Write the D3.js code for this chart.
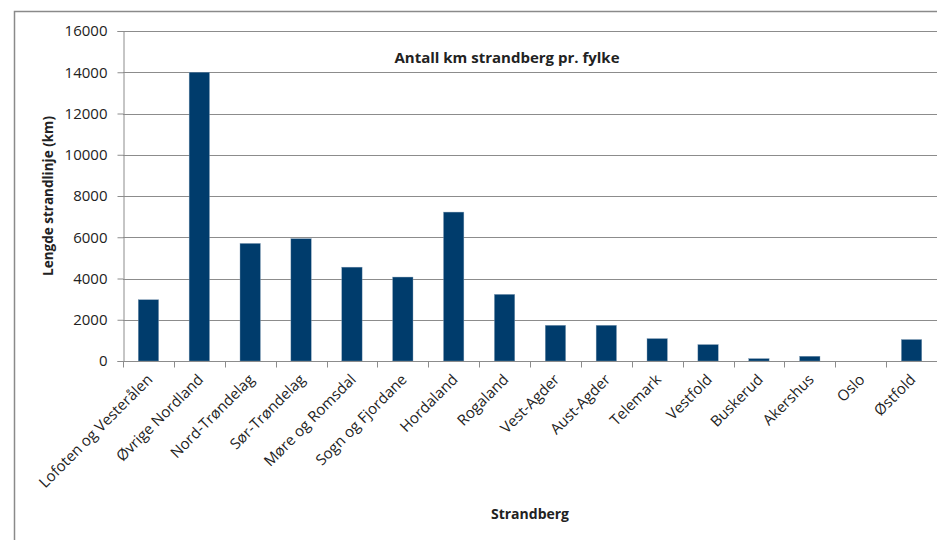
<!DOCTYPE html>
<html>
<head>
<meta charset="utf-8">
<script src="https://cdn.jsdelivr.net/npm/d3@7"></script>
<style>
  body { margin: 0; background: #fff; }
  svg { display: block; }
  text { font-family: "Open Sans", "Noto Sans", sans-serif; fill: #222; }
</style>
</head>
<body>
<svg id="chart" width="937" height="540"></svg>
<script>
const categories = ["Lofoten og Vesterålen", "Øvrige Nordland", "Nord-Trøndelag", "Sør-Trøndelag",
  "Møre og Romsdal", "Sogn og Fjordane", "Hordaland", "Rogaland", "Vest-Agder", "Aust-Agder",
  "Telemark", "Vestfold", "Buskerud", "Akershus", "Oslo", "Østfold"];
const values = [2970, 14000, 5700, 5930, 4550, 4070, 7220, 3230, 1730, 1730, 1085, 795, 115, 230, 0, 1040];
const yTicks = [0, 2000, 4000, 6000, 8000, 10000, 12000, 14000, 16000];
const title = "Antall km strandberg pr. fylke";
const xTitle = "Strandberg";
const yTitle = "Lengde strandlinje (km)";

const svg = d3.select("#chart");
const W = 937, H = 540;
const m = { left: 123, right: 0, top: 31, bottom: 179 };

// outer chart border
svg.append("rect").attr("x", 14.5).attr("y", 11.5).attr("width", W + 10).attr("height", H + 10)
  .attr("fill", "#fff").attr("stroke", "#8a8a8a").attr("stroke-width", 1.5);

const x = d3.scaleBand().domain(categories).range([m.left, W - m.right]).paddingInner(0.6).paddingOuter(0.3);
const y = d3.scaleLinear().domain([0, 16000]).range([H - m.bottom, m.top]);

// gridlines
svg.append("g").selectAll("line").data(yTicks.filter(d => d > 0)).join("line")
  .attr("x1", m.left).attr("x2", W).attr("y1", d => Math.round(y(d)) + 0.5).attr("y2", d => Math.round(y(d)) + 0.5)
  .attr("stroke", "#8c8c8c").attr("stroke-width", 1);

// bars
svg.append("g").selectAll("rect").data(values).join("rect")
  .attr("x", (d, i) => x(categories[i]))
  .attr("y", d => y(d))
  .attr("width", x.bandwidth())
  .attr("height", d => y(0) - y(d))
  .attr("fill", "#003c6c")
  .attr("stroke", "#7f9bb5").attr("stroke-width", 0.4);

// y axis
const yAxis = svg.append("g").attr("transform", `translate(${m.left + 0.5},0)`)
  .call(d3.axisLeft(y).tickValues(yTicks).tickSize(6).tickPadding(10).tickFormat(d3.format("d")));
yAxis.select(".domain").attr("stroke", "#8c8c8c");
yAxis.selectAll(".tick line").attr("stroke", "#8c8c8c");
yAxis.selectAll(".tick text").style("font-size", "15px").attr("fill", "#333");

// x axis
const step = x.step();
const xAxisG = svg.append("g").attr("transform", `translate(0,${Math.round(y(0)) + 0.5})`);
xAxisG.append("line").attr("x1", m.left).attr("x2", W).attr("stroke", "#8c8c8c");
xAxisG.selectAll("line.tk").data(d3.range(categories.length + 1)).join("line").attr("class", "tk")
  .attr("x1", i => Math.round(m.left + i * step) + 0.5).attr("x2", i => Math.round(m.left + i * step) + 0.5)
  .attr("y1", 0).attr("y2", 6).attr("stroke", "#8c8c8c");
xAxisG.selectAll("text").data(categories).join("text")
  .attr("transform", d => `translate(${x(d) + x.bandwidth() / 2 + 5},${19}) rotate(-45)`)
  .attr("text-anchor", "end")
  .style("font-size", "15px").attr("fill", "#333")
  .text(d => d);

// titles
svg.append("text").attr("x", 507).attr("y", 63).attr("text-anchor", "middle")
  .style("font-size", "15px").style("font-weight", "bold").text(title);
svg.append("text").attr("x", (m.left + W) / 2).attr("y", 519).attr("text-anchor", "middle")
  .style("font-size", "14px").style("font-weight", "bold").text(xTitle);
svg.append("text").attr("transform", `translate(53,${(y(0) + y(16000)) / 2}) rotate(-90)`)
  .attr("text-anchor", "middle")
  .style("font-size", "13.5px").style("font-weight", "bold").text(yTitle);
</script>
</body>
</html>
